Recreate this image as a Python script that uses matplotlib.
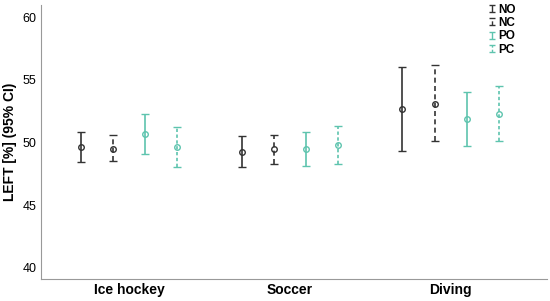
import matplotlib.pyplot as plt
import numpy as np
from matplotlib.container import ErrorbarContainer
from matplotlib.legend_handler import HandlerErrorbar

plt.rcParams['font.family'] = ['Liberation Sans', 'DejaVu Sans']

sports = ['Ice hockey', 'Soccer', 'Diving']
groups = ['NO', 'NC', 'PO', 'PC']

mean = {
    'NO': [49.6, 49.2, 52.7],
    'NC': [49.5, 49.5, 53.1],
    'PO': [50.7, 49.5, 51.9],
    'PC': [49.6, 49.8, 52.3],
}
upper = {
    'NO': [50.8, 50.5, 56.0],
    'NC': [50.6, 50.6, 56.2],
    'PO': [52.3, 50.8, 54.0],
    'PC': [51.2, 51.3, 54.5],
}
lower = {
    'NO': [48.4, 48.0, 49.3],
    'NC': [48.5, 48.3, 50.1],
    'PO': [49.1, 48.1, 49.7],
    'PC': [48.0, 48.3, 50.1],
}

colors = {'NO': '#333333', 'NC': '#333333', 'PO': '#5ec4ae', 'PC': '#5ec4ae'}
styles = {'NO': '-', 'NC': (0, (3, 2)), 'PO': '-', 'PC': (0, (2, 1.5))}
offsets = [-0.3, -0.1, 0.1, 0.3]

fig = plt.figure(figsize=(5.5, 3.01), dpi=100)
ax = fig.add_axes([0.075, 0.073, 0.92, 0.912])

x = np.arange(len(sports))
handles = []
for g, off in zip(groups, offsets):
    m = np.array(mean[g])
    err = [m - np.array(lower[g]), np.array(upper[g]) - m]
    eb = ax.errorbar(x + off, m, yerr=err, fmt='o', color=colors[g],
                     mfc='none', ms=4, mew=1, capsize=3, elinewidth=1.2,
                     capthick=1.2)
    for line in eb[2]:
        line.set_linestyle(styles[g])
    # legend proxy: bar with caps, no marker
    h = ax.errorbar([np.nan], [np.nan], yerr=[[1], [1]], fmt='none',
                    color=colors[g], capsize=2, elinewidth=1, capthick=1,
                    label=g)
    for line in h[2]:
        line.set_linestyle(styles[g])
    handles.append(h)

ax.set_xlim(-0.545, 2.6)
ax.set_ylim(39.1, 61)
ax.set_yticks([40, 45, 50, 55, 60])
ax.set_xticks(x)
ax.set_xticklabels(sports, fontweight='bold', fontsize=10)
ax.tick_params(axis='y', labelsize=9, length=0)
ax.tick_params(axis='x', length=0, pad=3)
ax.set_ylabel('LEFT [%] (95% CI)', fontweight='bold', fontsize=10)
for s in ['top', 'right']:
    ax.spines[s].set_visible(False)
for s in ['left', 'bottom']:
    ax.spines[s].set_color('#999999')

leg = ax.legend(handles=handles, loc='upper right', frameon=False, fontsize=8.5,
                handlelength=0.5, handletextpad=0.3, labelspacing=0.12,
                borderaxespad=0.1, bbox_to_anchor=(0.95, 1.025),
                handler_map={ErrorbarContainer: HandlerErrorbar(yerr_size=0.3)})
for t in leg.get_texts():
    t.set_fontweight('bold')

fig.savefig('out.png', dpi=100)
